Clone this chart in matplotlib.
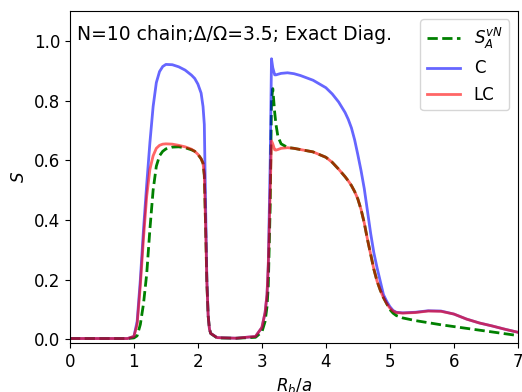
import numpy as np
import matplotlib
matplotlib.use("Agg")
import matplotlib.pyplot as plt

# blockade radius grid (R_b / a)
rb = [0.0, 0.9, 1.0, 1.05, 1.1, 1.15, 1.2, 1.25, 1.3, 1.35, 1.4, 1.45, 1.5,
      1.6, 1.7, 1.8, 1.9, 1.95, 2.0, 2.05, 2.08, 2.1, 2.12, 2.14, 2.16, 2.18,
      2.2, 2.3, 2.6, 2.9, 3.0, 3.05, 3.08, 3.1, 3.13, 3.15, 3.17, 3.2, 3.22,
      3.25, 3.3, 3.4, 3.5, 3.6, 3.8, 4.0, 4.1, 4.2, 4.3, 4.35, 4.4, 4.45, 4.5,
      4.55, 4.6, 4.65, 4.7, 4.75, 4.8, 4.85, 4.9, 4.95, 5.0, 5.05, 5.1, 5.2,
      5.4, 5.6, 5.8, 6.0, 6.2, 6.4, 6.6, 6.8, 7.0]

# von Neumann entropy of half chain
s_vn = [0.003, 0.003, 0.005, 0.012, 0.05, 0.12, 0.22, 0.37, 0.5, 0.58, 0.615,
        0.63, 0.638, 0.644, 0.645, 0.642, 0.635, 0.63, 0.62, 0.605, 0.59,
        0.55, 0.38, 0.19, 0.08, 0.035, 0.02, 0.005, 0.004, 0.007, 0.025, 0.06,
        0.11, 0.18, 0.45, 0.8, 0.84, 0.76, 0.72, 0.68, 0.655, 0.643, 0.64,
        0.636, 0.628, 0.61, 0.593, 0.57, 0.545, 0.531, 0.515, 0.495, 0.47,
        0.435, 0.39, 0.335, 0.285, 0.235, 0.195, 0.165, 0.14, 0.12, 0.1,
        0.088, 0.08, 0.072, 0.063, 0.056, 0.049, 0.043, 0.037, 0.031, 0.025,
        0.019, 0.013]

# correlation measure C
c_vals = [0.003, 0.003, 0.01, 0.06, 0.2, 0.37, 0.52, 0.66, 0.78, 0.86, 0.897,
          0.914, 0.921, 0.92, 0.913, 0.902, 0.885, 0.874, 0.855, 0.825, 0.78,
          0.72, 0.45, 0.2, 0.08, 0.035, 0.02, 0.006, 0.004, 0.01, 0.04, 0.09,
          0.15, 0.25, 0.6, 0.94, 0.91, 0.886, 0.886, 0.888, 0.891, 0.893, 0.89,
          0.884, 0.868, 0.843, 0.822, 0.795, 0.76, 0.737, 0.708, 0.668, 0.618,
          0.565, 0.505, 0.43, 0.355, 0.29, 0.24, 0.195, 0.15, 0.128, 0.11,
          0.097, 0.091, 0.089, 0.091, 0.096, 0.095, 0.085, 0.068, 0.055,
          0.045, 0.034, 0.024]

# local correlation measure LC
lc_vals = [0.003, 0.003, 0.01, 0.05, 0.18, 0.34, 0.48, 0.57, 0.615, 0.64,
           0.65, 0.654, 0.655, 0.654, 0.65, 0.645, 0.637, 0.63, 0.62, 0.605,
           0.59, 0.55, 0.38, 0.19, 0.08, 0.035, 0.02, 0.006, 0.004, 0.01, 0.04,
           0.09, 0.15, 0.25, 0.5, 0.665, 0.655, 0.635, 0.634, 0.636, 0.64,
           0.642, 0.64, 0.636, 0.628, 0.61, 0.593, 0.57, 0.545, 0.531, 0.515,
           0.495, 0.47, 0.435, 0.39, 0.335, 0.285, 0.235, 0.195, 0.165, 0.14,
           0.12, 0.105, 0.095, 0.09, 0.088, 0.09, 0.095, 0.094, 0.085, 0.068,
           0.055, 0.045, 0.034, 0.024]

fig = plt.figure(figsize=(5.22, 3.92), dpi=100)
ax = fig.add_axes([0.134, 0.125, 0.858, 0.847])

ax.plot(rb, s_vn, "g--", lw=2, label=r"$S_A^{vN}$")
ax.plot(rb, c_vals, "b-", lw=2, alpha=0.6, label="C")
ax.plot(rb, lc_vals, "r-", lw=2, alpha=0.6, label="LC")

ax.text(0.016, 0.93, "N=10 chain;Δ/Ω=3.5; Exact Diag.", transform=ax.transAxes,
        fontsize=13.5, va="center", ha="left")

ax.set_xlim(0, 7)
ax.set_ylim(-0.012, 1.1)
ax.set_xlabel(r"$R_b/a$", fontsize=12)
ax.set_ylabel(r"$S$", fontsize=12)
ax.tick_params(labelsize=12)
ax.legend(loc="upper right", fontsize=12)

fig.savefig("out.png", dpi=100)
